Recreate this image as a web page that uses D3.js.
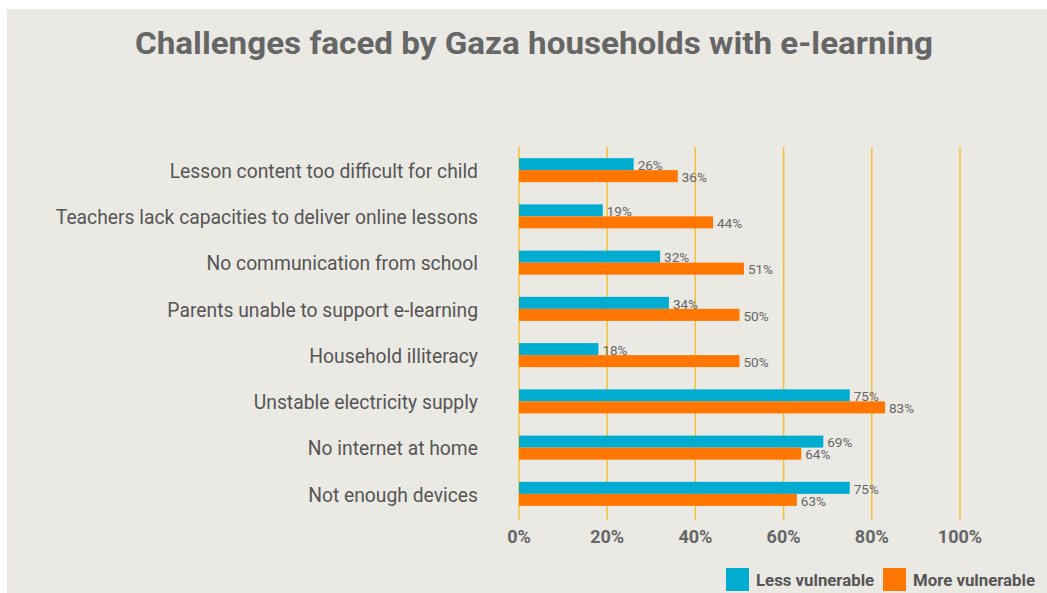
<!DOCTYPE html>
<html>
<head>
<meta charset="utf-8"/>
<script src="https://d3js.org/d3.v7.min.js"></script>
<style type="text/css">
body { margin: 0; background: #fff; }
text { font-family: Roboto, "Noto Sans", sans-serif; }
.grid line { stroke: #f7c02a; stroke-width: 1.4px; }
.cat { fill: #555; font-size: 19.3px; }
.val { fill: #666; font-size: 13.5px; }
.tick-label { fill: #666; font-size: 18px; font-weight: 700; }
.legend-label { fill: #555; font-size: 16.8px; font-weight: 700; }
</style>
</head>
<body>
<script>

var categories = [
  "Lesson content too difficult for child",
  "Teachers lack capacities to deliver online lessons",
  "No communication from school",
  "Parents unable to support e-learning",
  "Household illiteracy",
  "Unstable electricity supply",
  "No internet at home",
  "Not enough devices"
];
var lessVulnerable = [26, 19, 32, 34, 18, 75, 69, 75];
var moreVulnerable = [36, 44, 51, 50, 50, 83, 64, 63];
var seriesNames = ["Less vulnerable", "More vulnerable"];
var seriesColors = ["#00acd0", "#ff7700"];
var xTicks = [0, 20, 40, 60, 80, 100];

var width = 1047, height = 593;

var svg = d3.select("body").append("svg")
    .attr("width", width)
    .attr("height", height);

// panel background
svg.append("rect")
    .attr("x", 7).attr("y", 9)
    .attr("width", width - 7).attr("height", height - 9)
    .attr("fill", "#ebe9e4");

svg.append("text")
    .attr("x", 534).attr("y", 54)
    .attr("text-anchor", "middle")
    .attr("fill", "#666")
    .style("font-size", "31px")
    .style("font-weight", "700")
    .attr("textLength", 798)
    .attr("lengthAdjust", "spacingAndGlyphs")
    .text("Challenges faced by Gaza households with e-learning");

var x = d3.scaleLinear().domain([0, 100]).range([519, 960]);
var y = d3.scaleBand().domain(categories).range([147, 517]).paddingInner(0.48).paddingOuter(0.24);
var sub = d3.scaleBand().domain(seriesNames).range([0, y.bandwidth()]);

// gridlines
svg.append("g").attr("class", "grid")
  .selectAll("line").data(xTicks).enter().append("line")
    .attr("x1", function(d) { return x(d); })
    .attr("x2", function(d) { return x(d); })
    .attr("y1", 147).attr("y2", 520);

// category labels
svg.append("g").selectAll("text").data(categories).enter().append("text")
    .attr("class", "cat")
    .attr("x", 478)
    .attr("y", function(d) { return y(d) + y.bandwidth() / 2 + 1; })
    .attr("dy", "0.35em")
    .attr("text-anchor", "end")
    .text(function(d) { return d; });

var series = [lessVulnerable, moreVulnerable];

series.forEach(function(vals, si) {
  var g = svg.append("g");
  g.selectAll("rect").data(vals).enter().append("rect")
      .attr("x", x(0))
      .attr("y", function(d, i) { return y(categories[i]) + sub(seriesNames[si]); })
      .attr("width", function(d) { return x(d) - x(0); })
      .attr("height", sub.bandwidth())
      .attr("fill", seriesColors[si]);
  g.selectAll("text").data(vals).enter().append("text")
      .attr("class", "val")
      .attr("x", function(d) { return x(d) + 4; })
      .attr("y", function(d, i) { return y(categories[i]) + sub(seriesNames[si]) + sub.bandwidth() / 2 + 1; })
      .attr("dy", "0.35em")
      .text(function(d) { return d + "%"; });
});

// x tick labels
svg.append("g").selectAll("text").data(xTicks).enter().append("text")
    .attr("class", "tick-label")
    .attr("x", function(d) { return x(d); })
    .attr("y", 537)
    .attr("dy", "0.35em")
    .attr("text-anchor", "middle")
    .text(function(d) { return d + "%"; });

// legend
var legendX = [726, 883];
seriesNames.forEach(function(name, i) {
  svg.append("rect")
      .attr("x", legendX[i]).attr("y", 568)
      .attr("width", 23).attr("height", 23)
      .attr("fill", seriesColors[i]);
  svg.append("text")
      .attr("class", "legend-label")
      .attr("x", legendX[i] + 30).attr("y", 580)
      .attr("dy", "0.35em")
      .text(name);
});

</script>
</body>
</html>
